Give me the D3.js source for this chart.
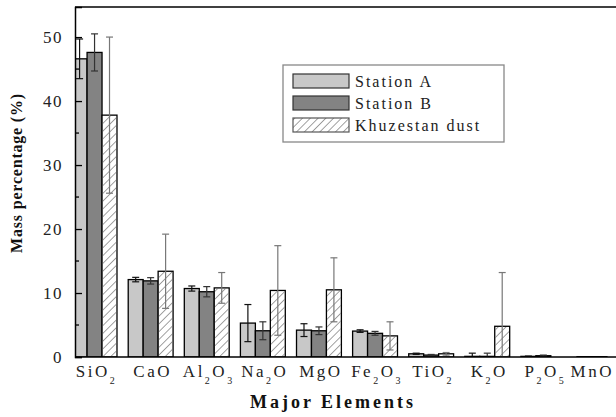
<!DOCTYPE html>
<html>
<head>
<meta charset="utf-8">
<script src="https://cdn.jsdelivr.net/npm/d3@7"></script>
<style>
  body { margin: 0; background: #fff; }
  svg { display: block; }
</style>
</head>
<body>
<svg id="chart" width="616" height="417" font-family="'Liberation Serif', 'Times New Roman', serif"></svg>
<script>
// oxide labels, "_n" marks a subscript
const categories = ["SiO_2", "CaO", "Al_2O_3", "Na_2O", "MgO", "Fe_2O_3", "TiO_2", "K_2O", "P_2O_5", "MnO"]
const seriesNames = ["Station A", "Station B", "Khuzestan dust"]

const stationA    = [46.6, 12.1, 10.7, 5.3, 4.2, 4.05, 0.5, 0.1, 0.1, 0.05]
const stationAErr = [3.1, 0.35, 0.4, 2.9, 1.0, 0.2, 0.1, 0.5, 0.05, 0]
const stationB    = [47.6, 11.9, 10.2, 4.1, 4.1, 3.7, 0.3, 0.1, 0.2, 0.05]
const stationBErr = [2.9, 0.5, 0.8, 1.4, 0.6, 0.3, 0.1, 0.5, 0.1, 0]
const dust        = [37.8, 13.4, 10.8, 10.4, 10.5, 3.3, 0.5, 4.8, 0, 0]
const dustErr     = [12.2, 5.8, 2.4, 7.0, 5.0, 2.2, 0.2, 8.4, 0, 0]

const yTicks = [0, 10, 20, 30, 40, 50]
const yMinorTicks = [5, 15, 25, 35, 45]

const serif = "'Liberation Serif', 'Times New Roman', serif"
const pLeft = 75, pRight = 616, pTop = 7, pBottom = 357

const svg = d3.select("#chart")

const x = d3.scaleBand()
  .domain(categories)
  .range([66.5, 627.5])
  .paddingInner(0.2)
  .paddingOuter(0.1)

const xs = d3.scaleBand()
  .domain(seriesNames)
  .range([0, x.bandwidth()])

const y = d3.scaleLinear()
  .domain([0, 54.7])
  .range([pBottom, pTop])

// hatch pattern
const defs = svg.append("defs")
defs.append("pattern")
  .attr("id", "hatch")
  .attr("patternUnits", "userSpaceOnUse")
  .attr("width", 5.5).attr("height", 5.5)
  .attr("patternTransform", "rotate(45)")
  .append("line")
  .attr("x1", 0).attr("y1", 0).attr("x2", 0).attr("y2", 5.5)
  .attr("stroke", "#555").attr("stroke-width", 1.1)

defs.append("clipPath").attr("id", "plotClip")
  .append("rect")
  .attr("x", pLeft).attr("y", pTop)
  .attr("width", pRight - pLeft).attr("height", pBottom - pTop)

const fills = ["#c8c8c8", "#838383", "url(#hatch)"]
const errColors = ["#111", "#333", "#777"]

const series = [
  { name: seriesNames[0], values: stationA, errs: stationAErr },
  { name: seriesNames[1], values: stationB, errs: stationBErr },
  { name: seriesNames[2], values: dust, errs: dustErr }
]

const plot = svg.append("g").attr("clip-path", "url(#plotClip)")

series.forEach(function(s, si) {
  const rows = categories.map(function(c, i) {
    return { cat: c, v: s.values[i], e: s.errs[i] }
  })

  plot.append("g").selectAll("rect")
    .data(rows)
    .enter()
    .append("rect")
    .attr("x", d => x(d.cat) + xs(s.name))
    .attr("y", d => y(d.v))
    .attr("width", xs.bandwidth())
    .attr("height", d => y(0) - y(d.v))
    .attr("fill", si == 2 ? "#fff" : fills[si])
    .attr("stroke", "#000")
    .attr("stroke-width", 1.3)

  if (si == 2) {
    plot.append("g").selectAll("rect")
      .data(rows)
      .enter()
      .append("rect")
      .attr("x", d => x(d.cat) + xs(s.name) + 0.7)
      .attr("y", d => y(d.v) + 0.7)
      .attr("width", xs.bandwidth() - 1.4)
      .attr("height", d => Math.max(0, y(0) - y(d.v) - 1.4))
      .attr("fill", fills[2])
  }

  // error bars
  const eg = plot.append("g")
    .attr("stroke", errColors[si])
    .attr("stroke-width", 1.2)
    .attr("fill", "none")

  rows.filter(d => d.e > 0).forEach(function(d) {
    const cx = x(d.cat) + xs(s.name) + xs.bandwidth() / 2
    const y1 = y(d.v + d.e), y2 = y(d.v - d.e)
    eg.append("line").attr("x1", cx).attr("x2", cx).attr("y1", y1).attr("y2", y2)
    eg.append("line").attr("x1", cx - 3.5).attr("x2", cx + 3.5).attr("y1", y1).attr("y2", y1)
    eg.append("line").attr("x1", cx - 3.5).attr("x2", cx + 3.5).attr("y1", y2).attr("y2", y2)
  })
})

// axes frame
svg.append("line").attr("x1", pLeft).attr("x2", pRight).attr("y1", pTop).attr("y2", pTop)
  .attr("stroke", "#000").attr("stroke-width", 1.5)
svg.append("line").attr("x1", pLeft).attr("x2", pRight).attr("y1", pBottom).attr("y2", pBottom)
  .attr("stroke", "#000").attr("stroke-width", 1.5)

const yAxis = svg.append("g")
  .attr("transform", `translate(${pLeft},0)`)
  .call(d3.axisLeft(y).tickValues(yTicks).tickSize(-7).tickPadding(12))
yAxis.attr("font-family", serif)
yAxis.select(".domain").attr("stroke-width", 1.5)
yAxis.selectAll(".tick line").attr("stroke-width", 1.3)
yAxis.selectAll(".tick text")
  .attr("font-size", 17)
  .attr("letter-spacing", "1.5px")
  .attr("fill", "#222")

svg.append("g")
  .selectAll("line")
  .data(yMinorTicks)
  .enter()
  .append("line")
  .attr("x1", pLeft).attr("x2", pLeft + 4)
  .attr("y1", d => y(d)).attr("y2", d => y(d))
  .attr("stroke", "#000").attr("stroke-width", 1.3)

// category labels with subscripts
const xLabels = svg.append("g")
  .attr("font-family", serif)
  .attr("font-size", 17)
  .attr("letter-spacing", "2.5px")
  .attr("fill", "#222")

categories.forEach(function(c) {
  const t = xLabels.append("text")
    .attr("x", x(c) + x.bandwidth() / 2 + 2)
    .attr("y", 377)
    .attr("text-anchor", "middle")
  const parts = c.split(/(_\d)/).filter(p => p.length)
  parts.forEach(function(p) {
    if (p[0] == "_") {
      t.append("tspan").attr("font-size", 10).attr("dy", 7).text(p[1])
    } else {
      const sp = t.append("tspan").text(p)
      if (t.selectAll("tspan").size() > 1) sp.attr("dy", -7)
    }
  })
  // keep the last label inside the picture
  const bb = t.node().getBBox()
  if (bb.x + bb.width > 614) t.attr("x", +t.attr("x") - (bb.x + bb.width - 614))
})

// axis titles
svg.append("text")
  .attr("x", 333).attr("y", 408)
  .attr("text-anchor", "middle")
  .attr("font-size", 18)
  .attr("font-weight", "bold")
  .attr("letter-spacing", "3px")
  .attr("fill", "#111")
  .text("Major Elements")

svg.append("text")
  .attr("transform", "translate(22,173) rotate(-90)")
  .attr("text-anchor", "middle")
  .attr("font-size", 16)
  .attr("font-weight", "bold")
  .attr("letter-spacing", "0.8px")
  .attr("fill", "#111")
  .text("Mass percentage (%)")

// legend
const legend = svg.append("g")
legend.append("rect")
  .attr("x", 283).attr("y", 65)
  .attr("width", 221).attr("height", 77)
  .attr("fill", "#fff").attr("stroke", "#888").attr("stroke-width", 1.3)

seriesNames.forEach(function(n, i) {
  const ly = 74 + i * 22
  if (i == 2) {
    legend.append("rect").attr("x", 293).attr("y", ly).attr("width", 56).attr("height", 14)
      .attr("fill", "#fff")
  }
  legend.append("rect")
    .attr("x", 293).attr("y", ly)
    .attr("width", 56).attr("height", 14)
    .attr("fill", fills[i])
    .attr("stroke", i == 2 ? "#555" : "#333").attr("stroke-width", 1.2)
  legend.append("text")
    .attr("x", 355).attr("y", ly + 13)
    .attr("font-size", 16)
    .attr("letter-spacing", "2px")
    .attr("fill", "#222")
    .text(n)
})
</script>
</body>
</html>
